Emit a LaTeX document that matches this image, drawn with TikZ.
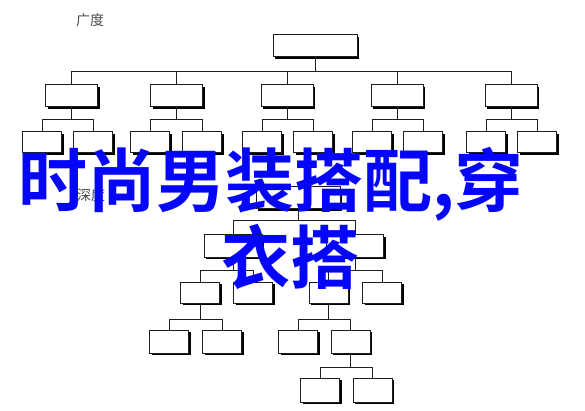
\documentclass[tikz,border=0pt]{standalone}
\usepackage{fontspec}
\newfontfamily\cjk{Noto Sans CJK SC}[BoldFont={Noto Sans CJK SC Bold}]
\usetikzlibrary{shadows}
\definecolor{ink}{RGB}{30,30,30}
\definecolor{titleblue}{RGB}{5,5,250}
\tikzset{
  boxbase/.style={draw=ink, line width=1pt, fill=white, inner sep=0pt,
    drop shadow={shadow xshift=2.4pt, shadow yshift=-2.4pt, fill=black, opacity=1}},
  bigbox/.style={boxbase, minimum width=84pt, minimum height=22pt},
  midbox/.style={boxbase, minimum width=52pt, minimum height=22pt},
  smallbox/.style={boxbase, minimum width=39pt, minimum height=21pt},
  link/.style={draw=ink, line width=1pt},
  lbl/.style={font=\cjk\fontsize{14pt}{14pt}\selectfont, text=ink!80, inner sep=0pt},
  title/.style={font=\cjk\bfseries\fontsize{69pt}{69pt}\selectfont, text=titleblue, inner sep=0pt, anchor=base west}
}
\begin{document}
\begin{tikzpicture}[x=1pt,y=-1pt]
\useasboundingbox (0,0) rectangle (585,411);
\fill[white] (0,0) rectangle (585,411);
% ---------- breadth tree ----------
\node[lbl] (bl) at (90,20) {广度};
\node[bigbox] (r) at (315,46) {};
\foreach \i/\x in {1/71.5,2/176.5,3/287,4/397,5/511}{
  \node[midbox] (m\i) at (\x,96) {};
}
\foreach \i/\a/\b in {1/42/93,2/150/202,3/262/313,4/372/423,5/486/537}{
  \node[smallbox] (s\i a) at (\a,142.5) {};
  \node[smallbox] (s\i b) at (\b,142.5) {};
}
\coordinate (rj) at (r.south |- 0,72);
\draw[link] (r.south) -- (rj);
\foreach \i in {1,...,5}{
  \draw[link] (rj) -| (m\i.north);
  \coordinate (mj\i) at (m\i.south |- 0,120);
  \draw[link] (m\i.south) -- (mj\i);
  \draw[link] (mj\i) -| (s\i a.north);
  \draw[link] (mj\i) -| (s\i b.north);
}
% ---------- depth tree ----------
\node[lbl] (dl) at (91,195) {深度};
\node[bigbox] (d0) at (298,197.5) {};
\node[midbox, minimum width=58pt] (d1) at (233,246) {};
\node[midbox, minimum width=57pt] (d2) at (355,246) {};
\node[smallbox] (d11) at (200,292.5) {};
\node[smallbox] (d12) at (253,292.5) {};
\node[smallbox] (d21) at (328.5,292.5) {};
\node[smallbox] (d22) at (382,292.5) {};
\node[smallbox, minimum height=23pt] (d111) at (169,341.5) {};
\node[smallbox, minimum height=23pt] (d112) at (222,341.5) {};
\node[smallbox, minimum height=23pt] (d211) at (298,341.5) {};
\node[smallbox, minimum height=23pt] (d212) at (350.5,341.5) {};
\node[smallbox, minimum height=24pt] (d2121) at (320,390) {};
\node[smallbox, minimum height=24pt] (d2122) at (372.5,390) {};
\foreach \p/\y/\ca/\cb in {d0/221/d1/d2, d1/270/d11/d12, d2/270/d21/d22,
  d11/319/d111/d112, d21/319/d211/d212, d212/367/d2121/d2122}{
  \coordinate (\p j) at (\p.south |- 0,\y);
  \draw[link] (\p.south) -- (\p j);
  \draw[link] (\p j) -| (\ca.north);
  \draw[link] (\p j) -| (\cb.north);
}
% ---------- title overlay ----------
\node[title] (t1) at (18,207) {时尚男装搭配,穿};
\node[title] (t2) at (221,283) {衣搭};
\end{tikzpicture}
\end{document}
